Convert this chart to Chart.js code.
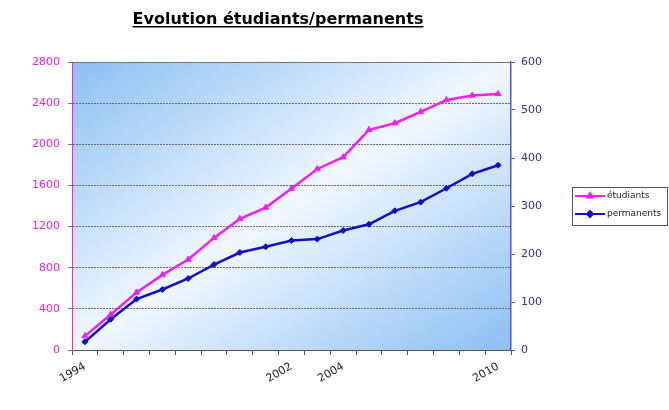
<!DOCTYPE html>
<html>
<head>
<meta charset="utf-8">
<script src="https://cdn.jsdelivr.net/npm/chart.js@4/dist/chart.umd.min.js"></script>
<style>
html,body{margin:0;padding:0;background:#fff;}
#wrap{position:relative;width:669px;height:410px;}
</style>
</head>
<body>
<div id="wrap"><canvas id="c" width="669" height="410"></canvas></div>
<script>
const categories = ['1994','','','','','','','','2002','','2004','','','','','','2010'];
const etudiants = [135, 345, 560, 730, 880, 1090, 1275, 1385, 1570, 1760, 1875, 2140, 2205, 2315, 2430, 2475, 2490];
const permanents = [17, 64, 106, 126, 149, 178, 203, 215, 228, 231, 249, 262, 290, 308, 337, 367, 385];
const leftTicks = [0, 400, 800, 1200, 1600, 2000, 2400, 2800];
const rightTicks = [0, 100, 200, 300, 400, 500, 600];
const titleText = 'Evolution étudiants/permanents';
const seriesNames = ['étudiants', 'permanents'];

const PINK = '#f020f0';
const BLUE = '#1010c8';
const FONT = '"DejaVu Sans", Verdana, sans-serif';

const bgPlugin = {
  id: 'bg',
  beforeDraw(chart) {
    const {ctx, chartArea: a} = chart;
    ctx.save();
    ctx.translate(a.left, a.top);
    ctx.scale(a.right - a.left, a.bottom - a.top);
    const g = ctx.createLinearGradient(0, 0, 1, 1);
    g.addColorStop(0, '#8cbff2');
    g.addColorStop(0.5, '#f0f7fe');
    g.addColorStop(1, '#8cbff2');
    ctx.fillStyle = g;
    ctx.fillRect(0, 0, 1, 1);
    ctx.restore();
    ctx.save();
    ctx.strokeStyle = '#8a8a8a';
    ctx.lineWidth = 1;
    ctx.beginPath();
    ctx.moveTo(a.left, a.top + 0.5);
    ctx.lineTo(a.right, a.top + 0.5);
    ctx.stroke();
    ctx.restore();
  }
};

const decoPlugin = {
  id: 'deco',
  afterDraw(chart) {
    const ctx = chart.ctx;
    ctx.save();
    ctx.font = 'bold 16px ' + FONT;
    ctx.fillStyle = '#000';
    ctx.textAlign = 'center';
    ctx.textBaseline = 'alphabetic';
    const tx = 278, ty = 24;
    ctx.fillText(titleText, tx, ty);
    const w = ctx.measureText(titleText).width;
    ctx.fillRect(tx - w / 2, ty + 2, w, 1.5);
    const lx = 572, ly = 187, lw = 95, lh = 38;
    ctx.strokeStyle = '#555';
    ctx.lineWidth = 1;
    ctx.strokeRect(lx + 0.5, ly + 0.5, lw, lh);
    const rows = [
      {name: seriesNames[0], color: PINK, style: 'triangle', y: 196},
      {name: seriesNames[1], color: BLUE, style: 'rectRot', y: 214}
    ];
    ctx.font = '9px ' + FONT;
    ctx.textAlign = 'left';
    ctx.textBaseline = 'middle';
    rows.forEach(r => {
      ctx.strokeStyle = r.color;
      ctx.lineWidth = 2;
      ctx.beginPath();
      ctx.moveTo(575, r.y);
      ctx.lineTo(605, r.y);
      ctx.stroke();
      ctx.fillStyle = r.color;
      Chart.helpers.drawPoint(ctx, {pointStyle: r.style, radius: 3, borderWidth: 1}, 590, r.y);
      ctx.fillStyle = '#222';
      ctx.fillText(r.name, 607, r.y);
    });
    ctx.restore();
  }
};

new Chart(document.getElementById('c'), {
  type: 'line',
  data: {
    labels: categories,
    datasets: [
      {
        label: seriesNames[0], data: etudiants, yAxisID: 'yL',
        borderColor: PINK, backgroundColor: PINK, borderWidth: 2.5,
        pointStyle: 'triangle', pointRadius: 3.5, pointBorderWidth: 1, tension: 0
      },
      {
        label: seriesNames[1], data: permanents, yAxisID: 'yR',
        borderColor: BLUE, backgroundColor: BLUE, borderWidth: 2.5,
        pointStyle: 'rectRot', pointRadius: 3, pointBorderWidth: 1, tension: 0
      }
    ]
  },
  options: {
    responsive: false,
    animation: false,
    devicePixelRatio: 1,
    layout: {padding: {top: 62, left: 0, right: 0, bottom: 0}},
    plugins: {legend: {display: false}, tooltip: {enabled: false}, title: {display: false}},
    scales: {
      x: {
        type: 'category',
        offset: true,
        grid: {offset: true, drawOnChartArea: false, color: '#555', tickLength: 5},
        border: {color: '#555', width: 1},
        ticks: {
          autoSkip: false, minRotation: 30, maxRotation: 30, padding: 5,
          color: '#222', font: {family: FONT, size: 11}
        },
        afterFit(s) { s.height = 60; }
      },
      yL: {
        position: 'left', min: 0, max: 2800,
        afterBuildTicks(s) { s.ticks = leftTicks.map(v => ({value: v})); },
        grid: {color: '#6a6a6a', tickColor: '#777', tickLength: 4, lineWidth: 1},
        border: {color: PINK, width: 1, dash: [2, 1]},
        ticks: {color: PINK, padding: 8, font: {family: FONT, size: 11}, callback: v => String(v)},
        afterFit(s) { s.width = 72; }
      },
      yR: {
        position: 'right', min: 0, max: 600,
        afterBuildTicks(s) { s.ticks = rightTicks.map(v => ({value: v})); },
        grid: {drawOnChartArea: false, color: '#5555bb', tickLength: 4},
        border: {color: '#5555cc', width: 1.5},
        ticks: {color: '#3030b0', padding: 6, font: {family: FONT, size: 11}, callback: v => String(v)},
        afterFit(s) { s.width = 158; }
      }
    }
  },
  plugins: [bgPlugin, decoPlugin]
});
</script>
</body>
</html>
